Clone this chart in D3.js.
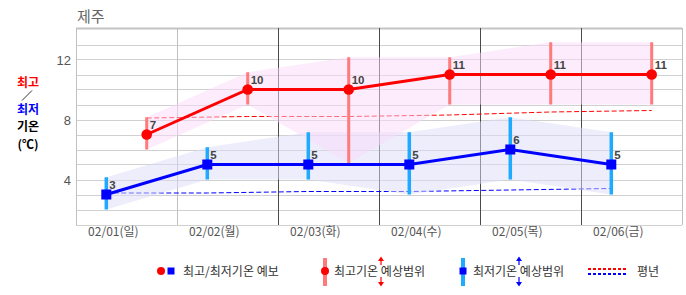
<!DOCTYPE html>
<html>
<head>
<meta charset="utf-8">
<script src="https://cdn.jsdelivr.net/npm/d3@7"></script>
<style>
  body { margin: 0; background: #fff; }
  svg { display: block; font-family: "Liberation Sans", "Noto Sans CJK KR", sans-serif; }
</style>
</head>
<body>
<svg width="686" height="295"></svg>
<script>
const days = ['02/01(일)', '02/02(월)', '02/03(화)', '02/04(수)', '02/05(목)', '02/06(금)'];
const maxTemp = [7, 10, 10, 11, 11, 11];
const maxHigh = [8.15, 11.15, 12.15, 12.15, 13.15, 13.15];
const maxLow = [6, 9, 5.1, 9, 9, 9];
const minTemp = [3, 5, 5, 5, 6, 5];
const minHigh = [4.15, 6.15, 7.15, 7.15, 8.15, 7.15];
const minLow = [2, 4, 4, 3, 4, 3];
const normalMax = [8.1, 8.2, 8.2, 8.3, 8.5, 8.6];
const normalMin = [3.1, 3.1, 3.2, 3.2, 3.3, 3.4];
const yTicks = [4, 8, 12];

const svg = d3.select('svg');

const x = d3.scaleLinear().domain([0, 6]).range([76, 682]);
const y = d3.scaleLinear().domain([1, 14.1]).range([224.5, 28]);

const xMin = i => x(i + 0.3);   // 최저기온 위치
const xMax = i => x(i + 0.7);   // 최고기온 위치

// 제목
svg.append('text')
    .attr('x', 77).attr('y', 22)
    .style('font-family', '"Noto Sans CJK KR"')
    .style('font-size', '15px')
    .style('fill', '#666')
    .text('제주');

// 가로 격자
svg.append('g').selectAll('line')
    .data(d3.range(1, 14))
    .enter().append('line')
    .attr('x1', x(0)).attr('x2', x(6))
    .attr('y1', d => Math.round(y(d)) + 0.5)
    .attr('y2', d => Math.round(y(d)) + 0.5)
    .style('stroke', '#d0d0d0');

svg.append('line')
    .attr('x1', x(0)).attr('x2', x(6))
    .attr('y1', 28.5).attr('y2', 28.5)
    .style('stroke', '#c4c4c4')
    .style('stroke-width', 2);

// 세로 격자
svg.append('g').selectAll('line')
    .data(d3.range(0, 7))
    .enter().append('line')
    .attr('x1', d => Math.round(x(d)) + 0.5)
    .attr('x2', d => Math.round(x(d)) + 0.5)
    .attr('y1', 28).attr('y2', y(1) + 0.5)
    .style('stroke', d => (d === 0 || d === 1 || d === 6) ? '#c0c0c0' : '#4a4a4a');

// y축 눈금
svg.append('g').selectAll('text')
    .data(yTicks)
    .enter().append('text')
    .attr('x', 71)
    .attr('y', d => y(d) + 5)
    .attr('text-anchor', 'end')
    .style('font-size', '13px')
    .style('fill', '#555')
    .text(d => d);

// x축 날짜
svg.append('g').selectAll('text')
    .data(days)
    .enter().append('text')
    .attr('x', (d, i) => x(i + 0.37))
    .attr('y', 236)
    .attr('text-anchor', 'middle')
    .style('font-family', '"Noto Sans CJK KR"')
    .style('font-size', '12px')
    .style('fill', '#555')
    .text(d => d);

// 평년 (점선)
const normalLine = fx => d3.line().x((d, i) => fx(i)).y(d => y(d));
svg.append('path')
    .attr('d', normalLine(xMax)(normalMax))
    .style('fill', 'none').style('stroke', '#ff0000')
    .style('stroke-dasharray', '5,2.5');
svg.append('path')
    .attr('d', normalLine(xMin)(normalMin))
    .style('fill', 'none').style('stroke', '#0000ff')
    .style('stroke-dasharray', '5,2.5');

// 예상범위 영역
const band = (fx, hi, lo) => d3.area()
    .x((d, i) => fx(i))
    .y0((d, i) => y(lo[i]))
    .y1((d, i) => y(hi[i]))(hi);

svg.append('path')
    .attr('d', band(xMin, minHigh, minLow))
    .style('fill', '#dcdcfa').style('opacity', 0.5);
svg.append('path')
    .attr('d', band(xMax, maxHigh, maxLow))
    .style('fill', '#f9d9f9').style('opacity', 0.5);

// 예상범위 막대
svg.append('g').selectAll('line')
    .data(maxHigh)
    .enter().append('line')
    .attr('x1', (d, i) => xMax(i)).attr('x2', (d, i) => xMax(i))
    .attr('y1', d => y(d)).attr('y2', (d, i) => y(maxLow[i]))
    .style('stroke', '#ff7b7b').style('stroke-width', 3);

svg.append('g').selectAll('line')
    .data(minHigh)
    .enter().append('line')
    .attr('x1', (d, i) => xMin(i)).attr('x2', (d, i) => xMin(i))
    .attr('y1', d => y(d)).attr('y2', (d, i) => y(minLow[i]))
    .style('stroke', '#1eaaff').style('stroke-width', 3.5);

// 최고/최저 기온 선
svg.append('path')
    .attr('d', d3.line().x((d, i) => xMax(i)).y(d => y(d))(maxTemp))
    .style('fill', 'none').style('stroke', '#ff0000').style('stroke-width', 3);
svg.append('path')
    .attr('d', d3.line().x((d, i) => xMin(i)).y(d => y(d))(minTemp))
    .style('fill', 'none').style('stroke', '#0000ff').style('stroke-width', 3);

svg.append('g').selectAll('circle')
    .data(maxTemp)
    .enter().append('circle')
    .attr('cx', (d, i) => xMax(i)).attr('cy', d => y(d))
    .attr('r', 5.3)
    .style('fill', '#ff0000');

svg.append('g').selectAll('rect')
    .data(minTemp)
    .enter().append('rect')
    .attr('x', (d, i) => xMin(i) - 5).attr('y', d => y(d) - 5)
    .attr('width', 10).attr('height', 10)
    .style('fill', '#0000ff');

// 값 라벨
const labels = maxTemp.map((d, i) => ({ v: d, x: xMax(i) }))
    .concat(minTemp.map((d, i) => ({ v: d, x: xMin(i) })));
svg.append('g').selectAll('text')
    .data(labels)
    .enter().append('text')
    .attr('x', d => d.x + 3)
    .attr('y', d => y(d.v) - 5.5)
    .style('font-size', '11.5px')
    .style('font-weight', 'bold')
    .style('fill', '#444')
    .text(d => d.v);

// 왼쪽 축 제목
const side = svg.append('g')
    .style('font-family', '"Noto Sans CJK KR"')
    .style('font-size', '12px')
    .style('font-weight', 'bold')
    .attr('text-anchor', 'middle');
side.append('text').attr('x', 28).attr('y', 87).style('fill', '#ff0000').text('최고');
side.append('line').attr('x1', 22).attr('y1', 100.5).attr('x2', 32).attr('y2', 90.5)
    .style('stroke', '#000').style('stroke-width', 0.8);
side.append('text').attr('x', 28).attr('y', 113.5).style('fill', '#0000ff').text('최저');
side.append('text').attr('x', 28).attr('y', 131).style('fill', '#000').text('기온');
side.append('text').attr('x', 28).attr('y', 148.5).style('fill', '#000').text('(℃)');

// 범례
const legend = svg.append('g')
    .style('font-family', '"Noto Sans CJK KR"')
    .style('font-size', '12px')
    .style('fill', '#333');
const ly = 271;

legend.append('circle').attr('cx', 161).attr('cy', ly).attr('r', 4).style('fill', '#ff0000');
legend.append('rect').attr('x', 167.5).attr('y', ly - 3.5).attr('width', 7).attr('height', 7).style('fill', '#0000ff');
legend.append('text').attr('x', 183).attr('y', ly + 4.5).text('최고/최저기온 예보');

legend.append('line').attr('x1', 325).attr('x2', 325).attr('y1', 258).attr('y2', 286)
    .style('stroke', '#ff7b7b').style('stroke-width', 4);
legend.append('circle').attr('cx', 325).attr('cy', ly).attr('r', 4).style('fill', '#ff0000');
legend.append('text').attr('x', 334).attr('y', ly + 4.5).text('최고기온 예상범위');

legend.append('line').attr('x1', 463).attr('x2', 463).attr('y1', 258).attr('y2', 286)
    .style('stroke', '#1eaaff').style('stroke-width', 4);
legend.append('rect').attr('x', 459.5).attr('y', ly - 3.5).attr('width', 7).attr('height', 7).style('fill', '#0000ff');
legend.append('text').attr('x', 473).attr('y', ly + 4.5).text('최저기온 예상범위');

// 범위 화살표
const arrows = [{ x: 381, c: '#ff0000' }, { x: 519, c: '#0000ff' }];
arrows.forEach(a => {
    legend.append('line').attr('x1', a.x).attr('x2', a.x).attr('y1', 259).attr('y2', 265)
        .style('stroke', a.c).style('stroke-width', 1.2);
    legend.append('path').attr('d', `M${a.x - 3},${261} L${a.x},${256.5} L${a.x + 3},${261} Z`).style('fill', a.c);
    legend.append('line').attr('x1', a.x).attr('x2', a.x).attr('y1', 277).attr('y2', 284)
        .style('stroke', a.c).style('stroke-width', 1.2);
    legend.append('path').attr('d', `M${a.x - 3},${282} L${a.x},${286.5} L${a.x + 3},${282} Z`).style('fill', a.c);
});

legend.append('line').attr('x1', 588).attr('x2', 626).attr('y1', 269).attr('y2', 269)
    .style('stroke', '#ff0000').style('stroke-width', 2).style('stroke-dasharray', '3,2');
legend.append('line').attr('x1', 588).attr('x2', 626).attr('y1', 274).attr('y2', 274)
    .style('stroke', '#0000ff').style('stroke-width', 2).style('stroke-dasharray', '3,2');
legend.append('text').attr('x', 637).attr('y', ly + 4.5).text('평년');
</script>
</body>
</html>
